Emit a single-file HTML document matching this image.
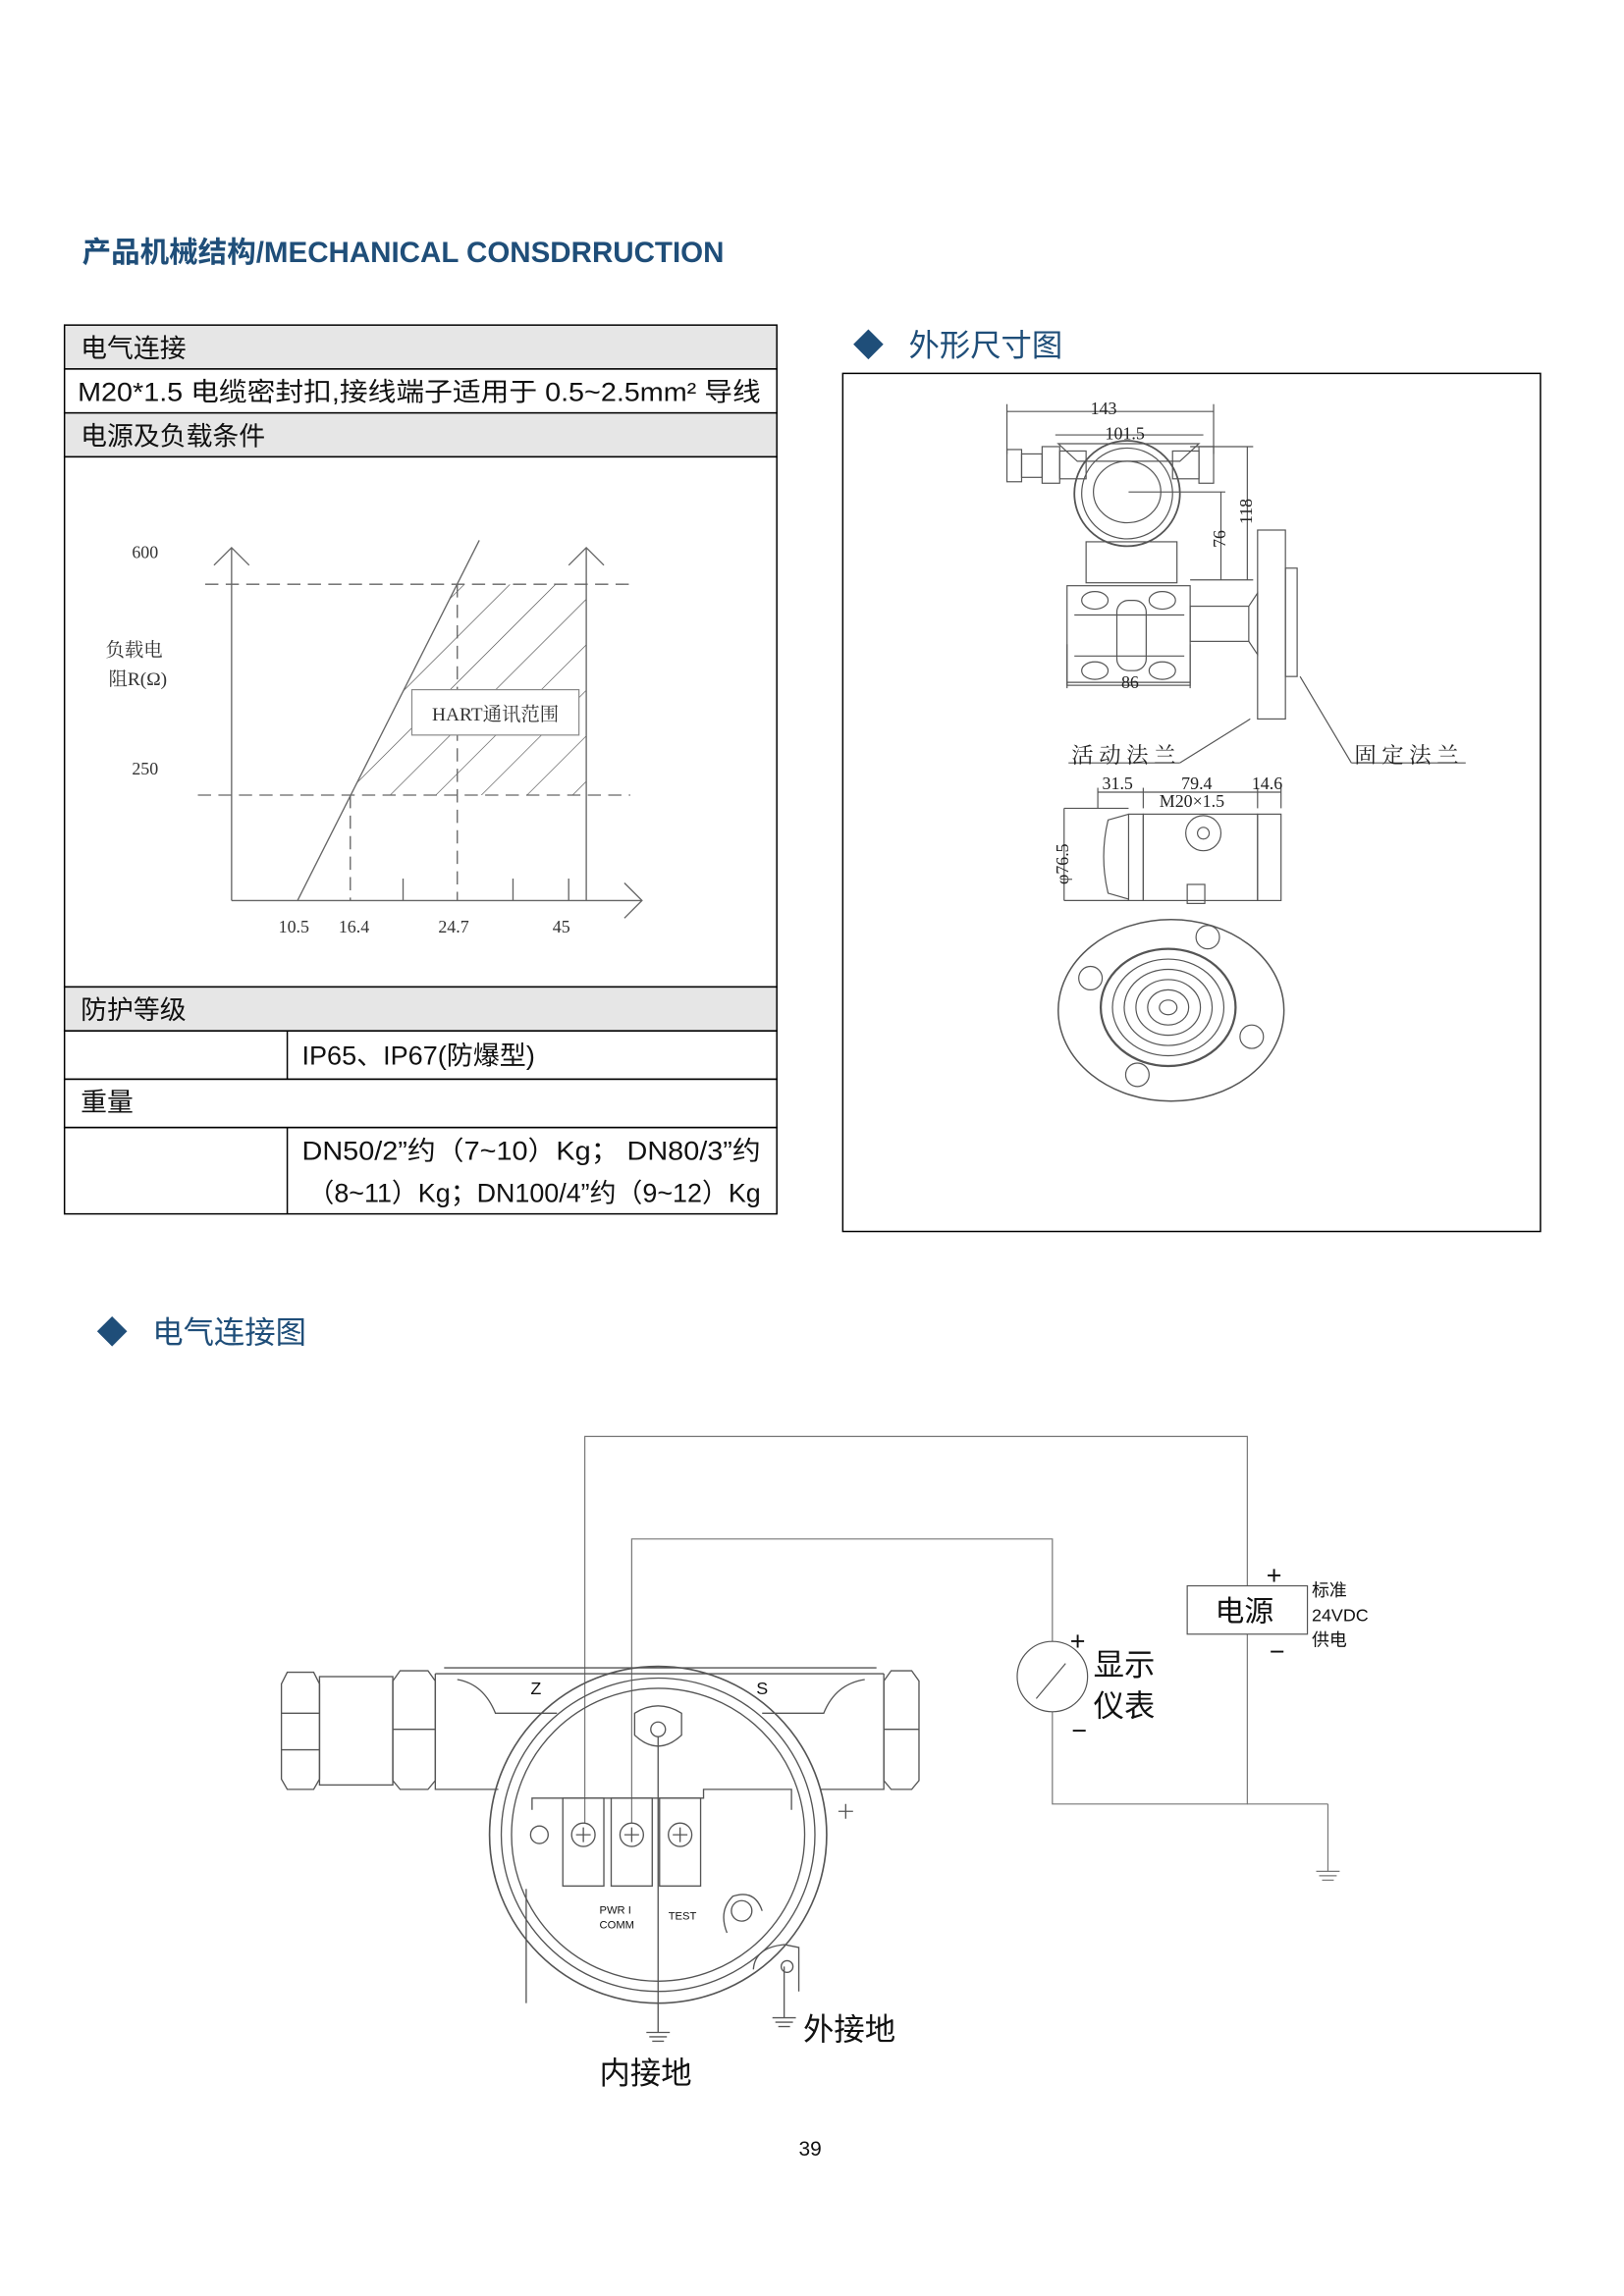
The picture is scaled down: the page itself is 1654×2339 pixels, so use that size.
<!DOCTYPE html>
<html><head><meta charset="utf-8"><style>
html,body{margin:0;padding:0;background:#fff}
svg{display:block}
text{font-family:"Liberation Sans","Noto Sans CJK SC",sans-serif}
.s text{font-family:"Liberation Serif","Noto Serif CJK SC",serif}
</style></head><body>
<svg width="1654" height="2339" viewBox="0 0 1108 1568" preserveAspectRatio="none" xmlns="http://www.w3.org/2000/svg">
<defs>
<pattern id="h" width="22" height="22" patternUnits="userSpaceOnUse" patternTransform="rotate(45)">
<line x1="0" y1="0" x2="0" y2="22" stroke="#444" stroke-width="0.8"/></pattern>
<clipPath id="hc"><polygon points="239,543 312,399 400,399 400,543"/></clipPath>
</defs>
<text x="56" y="179" font-size="20" font-weight="bold" fill="#1f4e79" textLength="438" lengthAdjust="spacingAndGlyphs">产品机械结构/MECHANICAL CONSDRRUCTION</text>

<g stroke="#000" stroke-width="1" fill="none">
<rect x="44" y="222" width="486" height="30" fill="#e6e6e6"/>
<rect x="44" y="252" width="486" height="30" fill="#fff"/>
<rect x="44" y="282" width="486" height="30" fill="#e6e6e6"/>
<rect x="44" y="312" width="486" height="362" fill="#fff"/>
<rect x="44" y="674" width="486" height="30" fill="#e6e6e6"/>
<rect x="44" y="704" width="486" height="33"/>
<rect x="44" y="737" width="486" height="33"/>
<rect x="44" y="770" width="486" height="59"/>
<line x1="196" y1="704" x2="196" y2="737"/>
<line x1="196" y1="770" x2="196" y2="829"/>
</g>
<g font-size="18" fill="#111">
<text x="55" y="244">电气连接</text>
<text x="53" y="274" textLength="466" lengthAdjust="spacingAndGlyphs">M20*1.5 电缆密封扣,接线端子适用于 0.5~2.5mm² 导线</text>
<text x="55" y="304">电源及负载条件</text>
<text x="55" y="696">防护等级</text>
<text x="206" y="727" textLength="159" lengthAdjust="spacingAndGlyphs">IP65、IP67(防爆型)</text>
<text x="55" y="759">重量</text>
<text x="206" y="792" textLength="313" lengthAdjust="spacingAndGlyphs">DN50/2”约（7~10）Kg； DN80/3”约</text>
<text x="210" y="821" textLength="309" lengthAdjust="spacingAndGlyphs">（8~11）Kg；DN100/4”约（9~12）Kg</text>
</g>

<rect x="239" y="399" width="161" height="144" fill="url(#h)" clip-path="url(#hc)"/>
<g stroke="#666" stroke-width="0.9" fill="none">
<line x1="158" y1="374" x2="158" y2="615"/>
<polyline points="146,386 158,374 170,386"/>
<line x1="400" y1="374" x2="400" y2="615"/>
<polyline points="388,386 400,374 412,386"/>
<line x1="158" y1="615" x2="438" y2="615"/>
<polyline points="426,603 438,615 426,627"/>
<line x1="203" y1="615" x2="327" y2="369"/>
<line x1="275" y1="600" x2="275" y2="615"/>
<line x1="350" y1="600" x2="350" y2="615"/>
<line x1="388" y1="600" x2="388" y2="615"/>
<g stroke-dasharray="9,5">
<line x1="140" y1="399" x2="430" y2="399"/>
<line x1="135" y1="543" x2="430" y2="543"/>
<line x1="239" y1="543" x2="239" y2="615"/>
<line x1="312" y1="399" x2="312" y2="615"/>
</g>
</g>
<rect x="281" y="471" width="114" height="31" fill="#fff" stroke="#888" stroke-width="0.8"/>
<g class="s" font-size="12" fill="#333">
<text x="338" y="492" text-anchor="middle" font-size="13">HART通讯范围</text>
<text x="90" y="381">600</text><text x="90" y="529">250</text>
<text x="72" y="448" font-size="13">负载电</text>
<text x="74" y="468" font-size="13">阻R(Ω)</text>
<text x="190" y="637">10.5</text><text x="231" y="637">16.4</text>
<text x="299" y="637">24.7</text><text x="377" y="637">45</text>
</g>

<text x="582" y="243" font-size="21" fill="#1f4e79">◆</text>
<text x="620" y="243" font-size="21" fill="#1f4e79">外形尺寸图</text>
<rect x="575" y="255" width="476" height="586" fill="none" stroke="#000" stroke-width="1"/>
<g stroke="#555" stroke-width="0.8" fill="none">
<line x1="687" y1="281" x2="828" y2="281"/><line x1="687" y1="276" x2="687" y2="310"/><line x1="828" y1="276" x2="828" y2="310"/>
<line x1="720" y1="297" x2="821" y2="297"/>
<line x1="812" y1="305" x2="855" y2="305"/><line x1="812" y1="396" x2="855" y2="396"/>
<line x1="851" y1="305" x2="851" y2="396"/><line x1="833" y1="336" x2="833" y2="396"/><line x1="770" y1="336" x2="836" y2="336"/>
<line x1="728" y1="466" x2="812" y2="466"/><line x1="728" y1="440" x2="728" y2="470"/><line x1="812" y1="440" x2="812" y2="470"/>
<rect x="687" y="307" width="10" height="22"/><rect x="697" y="310" width="14" height="16"/><rect x="711" y="305" width="12" height="25"/>
<rect x="723" y="308" width="18" height="19"/><rect x="800" y="308" width="18" height="19"/><rect x="818" y="305" width="10" height="25"/>
<path d="M722,303 L818,303 L805,315 L735,315 Z"/>
<circle cx="769" cy="337" r="36" stroke-width="1.2"/><circle cx="769" cy="337" r="31"/><ellipse cx="769" cy="336" rx="23" ry="21"/>
<rect x="741" y="370" width="62" height="28"/>
<rect x="728" y="400" width="84" height="68"/>
<ellipse cx="747" cy="410" rx="9" ry="6"/><ellipse cx="793" cy="410" rx="9" ry="6"/>
<ellipse cx="747" cy="458" rx="9" ry="6"/><ellipse cx="793" cy="458" rx="9" ry="6"/>
<rect x="762" y="410" width="20" height="48" rx="8"/>
<line x1="733" y1="420" x2="808" y2="420"/><line x1="733" y1="448" x2="808" y2="448"/>
<rect x="812" y="414" width="40" height="24"/>
<path d="M852,414 L858,405 L858,447 L852,438"/>
<rect x="858" y="362" width="19" height="129"/><rect x="877" y="388" width="8" height="74"/>
<line x1="853" y1="491" x2="805" y2="521"/><line x1="729" y1="521" x2="805" y2="521"/>
<line x1="887" y1="462" x2="922" y2="521"/><line x1="922" y1="521" x2="1000" y2="521"/>
<line x1="749" y1="538" x2="749" y2="552"/><line x1="780" y1="538" x2="780" y2="552"/><line x1="858" y1="538" x2="858" y2="552"/><line x1="874" y1="538" x2="874" y2="552"/>
<line x1="749" y1="541" x2="874" y2="541"/>
<line x1="726" y1="552" x2="726" y2="615"/><line x1="726" y1="552" x2="770" y2="552"/><line x1="726" y1="615" x2="770" y2="615"/>
<path d="M770,556 L756,560 Q750,585 756,610 L770,614"/>
<rect x="770" y="556" width="10" height="59"/>
<rect x="780" y="556" width="78" height="59"/>
<rect x="858" y="556" width="16" height="59"/>
<circle cx="821" cy="569" r="12"/><circle cx="821" cy="569" r="4"/>
<rect x="810" y="604" width="12" height="13"/>
<ellipse cx="799" cy="690" rx="77" ry="62" stroke-width="1"/>
<ellipse cx="797" cy="688" rx="46" ry="40" stroke-width="1.5"/>
<ellipse cx="797" cy="688" rx="38" ry="33"/><ellipse cx="797" cy="688" rx="30" ry="26"/>
<ellipse cx="797" cy="688" rx="22" ry="19"/><ellipse cx="797" cy="688" rx="14" ry="12"/><ellipse cx="797" cy="688" rx="6" ry="5"/>
<circle cx="744" cy="668" r="8"/><circle cx="776" cy="734" r="8"/><circle cx="854" cy="708" r="8"/><circle cx="824" cy="640" r="8"/>
</g>
<g class="s" font-size="12" fill="#222">
<text x="744" y="283">143</text><text x="754" y="300">101.5</text>
<text x="765" y="470">86</text>
<text x="854" y="358" transform="rotate(-90 854 358)">118</text>
<text x="836" y="374" transform="rotate(-90 836 374)">76</text>
<text x="731" y="521" font-size="15">活 动 法 兰</text>
<text x="924" y="521" font-size="15">固 定 法 兰</text>
<text x="752" y="539">31.5</text><text x="806" y="539">79.4</text><text x="854" y="539">14.6</text>
<text x="791" y="551">M20×1.5</text>
<text x="729" y="604" transform="rotate(-90 729 604)">φ76.5</text>
</g>

<text x="66" y="917" font-size="21" fill="#1f4e79">◆</text>
<text x="104" y="917" font-size="21" fill="#1f4e79">电气连接图</text>
<g stroke="#777" stroke-width="0.8" fill="none">
<polyline points="399,1245 399,981 851,981 851,1232 718,1232 718,1169"/>
<line x1="851" y1="1232" x2="906" y2="1232"/><line x1="906" y1="1232" x2="906" y2="1278"/>
<line x1="898" y1="1278" x2="914" y2="1278"/><line x1="900" y1="1281" x2="912" y2="1281"/><line x1="902" y1="1284" x2="910" y2="1284"/>
<polyline points="431,1245 431,1051 718,1051 718,1121"/>
<circle cx="718" cy="1145" r="24" stroke="#555"/><line x1="707" y1="1160" x2="727" y2="1136" stroke="#555"/>
<rect x="810" y="1083" width="82" height="33" fill="#fff" stroke="#555"/>
</g>
<g stroke="#555" stroke-width="0.9" fill="none">
<path d="M192,1150 L196,1142 L214,1142 L218,1150 L218,1215 L214,1222 L196,1222 L192,1215 Z"/>
<line x1="192" y1="1170" x2="218" y2="1170"/><line x1="192" y1="1195" x2="218" y2="1195"/>
<rect x="218" y="1145" width="50" height="74"/>
<path d="M268,1148 L273,1141 L292,1141 L297,1148 L297,1216 L292,1222 L273,1222 L268,1216 Z"/>
<line x1="268" y1="1181" x2="297" y2="1181"/>
<path d="M603,1148 L608,1141 L622,1141 L627,1148 L627,1216 L622,1222 L608,1222 L603,1216 Z"/>
<line x1="603" y1="1181" x2="627" y2="1181"/>
<path d="M297,1143 L297,1222 L340,1222"/><path d="M560,1222 L603,1222 L603,1143"/>
<line x1="303" y1="1139" x2="598" y2="1139"/><line x1="297" y1="1143" x2="603" y2="1143"/>
<path d="M312,1147 Q330,1150 338,1170 L380,1170"/><path d="M590,1147 Q570,1150 562,1170 L520,1170"/>
<circle cx="449" cy="1253" r="115" stroke-width="1.1"/><circle cx="449" cy="1253" r="107"/><circle cx="449" cy="1253" r="100"/>
<path d="M433,1185 L433,1170 Q449,1160 465,1170 L465,1185 Q449,1200 433,1185 Z"/><circle cx="449" cy="1181" r="5"/>
<path d="M363,1236 L363,1228 L480,1228 L480,1222 L540,1222 L540,1236"/>
<rect x="384" y="1228" width="28" height="60"/><rect x="417" y="1228" width="28" height="60"/><rect x="450" y="1228" width="28" height="60"/>
<circle cx="398" cy="1253" r="8"/><circle cx="431" cy="1253" r="8"/><circle cx="464" cy="1253" r="8"/>
<path d="M393,1253 h10 M398,1248 v10 M426,1253 h10 M431,1248 v10 M459,1253 h10 M464,1248 v10"/>
<circle cx="368" cy="1253" r="6"/>
<circle cx="506" cy="1305" r="7"/><path d="M496,1320 Q490,1305 500,1295 Q515,1290 520,1305"/>
<path d="M514,1345 Q515,1330 535,1328 L545,1330 L545,1360"/><circle cx="537" cy="1343" r="4"/>
<line x1="359" y1="1290" x2="359" y2="1368"/>
<line x1="449" y1="1186" x2="449" y2="1388"/>
<line x1="441" y1="1388" x2="457" y2="1388"/><line x1="443" y1="1391" x2="455" y2="1391"/><line x1="445" y1="1394" x2="453" y2="1394"/>
<line x1="535" y1="1343" x2="535" y2="1378"/>
<line x1="527" y1="1378" x2="543" y2="1378"/><line x1="529" y1="1381" x2="541" y2="1381"/><line x1="531" y1="1384" x2="539" y2="1384"/>
<path d="M572,1237 h10 M577,1232 v10"/>
</g>
<g fill="#111">
<text x="362" y="1157" font-size="12">Z</text><text x="516" y="1157" font-size="12">S</text>
<text x="409" y="1307" font-size="7.5">PWR I</text><text x="409" y="1317" font-size="7.5">COMM</text>
<text x="456" y="1311" font-size="7.5">TEST</text>
<text x="829" y="1107" font-size="20">电源</text>
<text x="864" y="1082" font-size="18">+</text><text x="866" y="1134" font-size="18">−</text>
<text x="895" y="1090" font-size="12">标准</text><text x="895" y="1107" font-size="12">24VDC</text><text x="895" y="1124" font-size="12">供电</text>
<text x="730" y="1127" font-size="18">+</text><text x="731" y="1188" font-size="18">−</text>
<text x="746" y="1144" font-size="21">显示</text><text x="746" y="1172" font-size="21">仪表</text>
<text x="548" y="1393" font-size="21">外接地</text>
<text x="409" y="1423" font-size="21">内接地</text>
<text x="545" y="1472" font-size="14">39</text>
</g>
</svg>
</body></html>
